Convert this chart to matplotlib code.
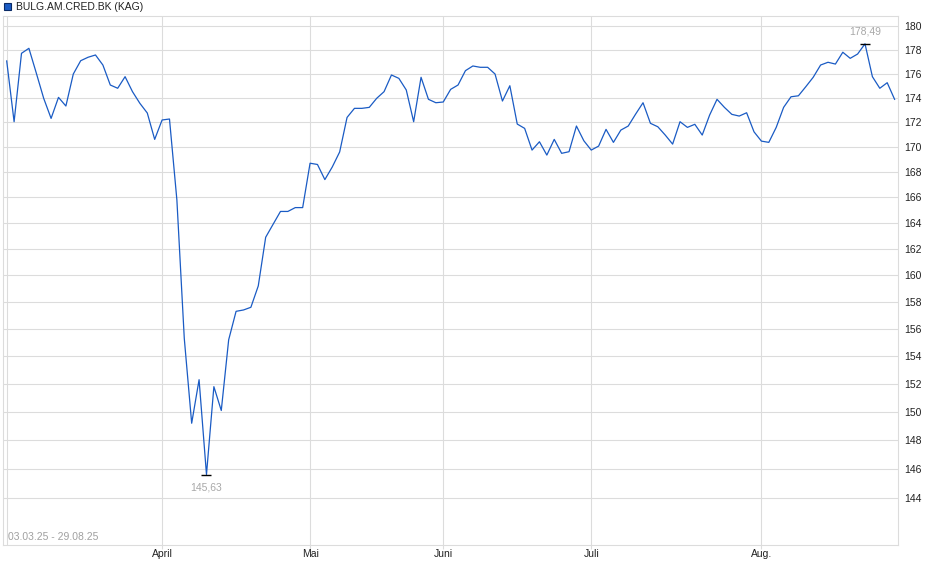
import numpy as np
import matplotlib
matplotlib.use("Agg")
import matplotlib.pyplot as plt
from matplotlib.patches import Rectangle
from matplotlib.ticker import FixedLocator, FixedFormatter, NullLocator

plt.rcParams['font.family'] = ['Liberation Sans', 'DejaVu Sans']

series_name = 'BULG.AM.CRED.BK (KAG)'
period_text = '03.03.25 - 29.08.25'

# daily prices, 03.03.25 - 29.08.25
prices = [
    177.05, 172.04, 177.69, 178.11, 176.04, 173.95, 172.31, 174.03, 173.32, 175.96,
    177.07, 177.36, 177.55, 176.71, 175.05, 174.78, 175.74, 174.50, 173.54, 172.75,
    170.61, 172.18, 172.26, 165.80, 155.30, 149.20, 152.30, 145.63, 151.80, 150.10,
    155.20, 157.30, 157.40, 157.60, 159.20, 162.90, 163.90, 164.90, 164.90, 165.20,
    165.20, 168.70, 168.60, 167.40, 168.40, 169.60, 172.39, 173.13, 173.13, 173.21,
    173.95, 174.50, 175.88, 175.60, 174.64, 172.04, 175.69, 173.87, 173.59, 173.65,
    174.69, 175.05, 176.24, 176.63, 176.52, 176.52, 175.96, 173.73, 174.99, 171.85,
    171.50, 169.75, 170.42, 169.35, 170.61, 169.49, 169.62, 171.69, 170.50, 169.75,
    170.07, 171.42, 170.37, 171.36, 171.69, 172.66, 173.59, 171.91, 171.63, 170.96,
    170.23, 172.04, 171.58, 171.83, 170.96, 172.58, 173.87, 173.21, 172.64, 172.50,
    172.77, 171.22, 170.47, 170.37, 171.58, 173.21, 174.08, 174.16, 174.91, 175.69,
    176.71, 176.94, 176.79, 177.78, 177.27, 177.63, 178.49, 175.74, 174.78, 175.24,
    173.87,
]

# index of the first trading day of each month
month_start = [21, 41, 59, 79, 102]
month_labels = ['April', 'Mai', 'Juni', 'Juli', 'Aug.']

y_ticks = list(range(144, 181, 2))

W, H = 940, 579
fig = plt.figure(figsize=(W / 100, H / 100), dpi=100)
ax = fig.add_axes([3 / W, 1 - 545 / H, (898.3 - 3) / W, (545 - 16) / H])

x = np.arange(len(prices))
y = np.array(prices)

grid_c = '#dcdcdc'
ax.set_yscale('log')
ax.set_xlim(-0.5, len(prices) - 0.5)
ax.set_ylim(140.86, 180.85)

for v in y_ticks:
    ax.axhline(v, color=grid_c, lw=0.8, zorder=1)
for i in [0] + month_start:
    ax.axvline(i, color=grid_c, lw=0.8, zorder=1)

ax.plot(x, y, color='#1a5bc4', lw=0.9, zorder=3)

ax.yaxis.set_major_locator(FixedLocator(y_ticks))
ax.yaxis.set_major_formatter(FixedFormatter([str(v) for v in y_ticks]))
ax.yaxis.set_minor_locator(NullLocator())
ax.yaxis.tick_right()
ax.tick_params(axis='y', length=0, pad=4, labelsize=7.5, labelcolor='#222222')

ax.set_xticks(month_start)
ax.set_xticklabels(month_labels)
ax.tick_params(axis='x', length=3, width=0.8, color=grid_c, pad=0,
               labelsize=7.5, labelcolor='#222222')

for s in ax.spines.values():
    s.set_color(grid_c)
    s.set_linewidth(0.8)

# min / max markers
i_min, i_max = int(np.argmin(y)), int(np.argmax(y))
for i, dy, va in [(i_min, -6, 'top'), (i_max, 5, 'bottom')]:
    ax.plot(x[i], y[i], marker='_', ms=7, mew=1.0, color='black', zorder=4)
    ax.annotate(f'{y[i]:.2f}'.replace('.', ','), (x[i], y[i]),
                xytext=(0, dy), textcoords='offset points',
                ha='center', va=va, fontsize=7.5, color='#a8a8a8')

ax.text(0.006, 0.005, period_text, transform=ax.transAxes, ha='left',
        va='bottom', fontsize=7.5, color='#a0a0a0')

# legend
fig.patches.append(Rectangle((3.5 / W, 1 - 10 / H), 7 / W, 7 / H,
                             transform=fig.transFigure, facecolor='#1a5bc4',
                             edgecolor='#0a2a66', lw=0.8))
fig.text(16 / W, 1 - 6.5 / H, series_name, ha='left', va='center',
         fontsize=7.5, color='#222222')

fig.savefig('out.png', dpi=100, facecolor='white')
